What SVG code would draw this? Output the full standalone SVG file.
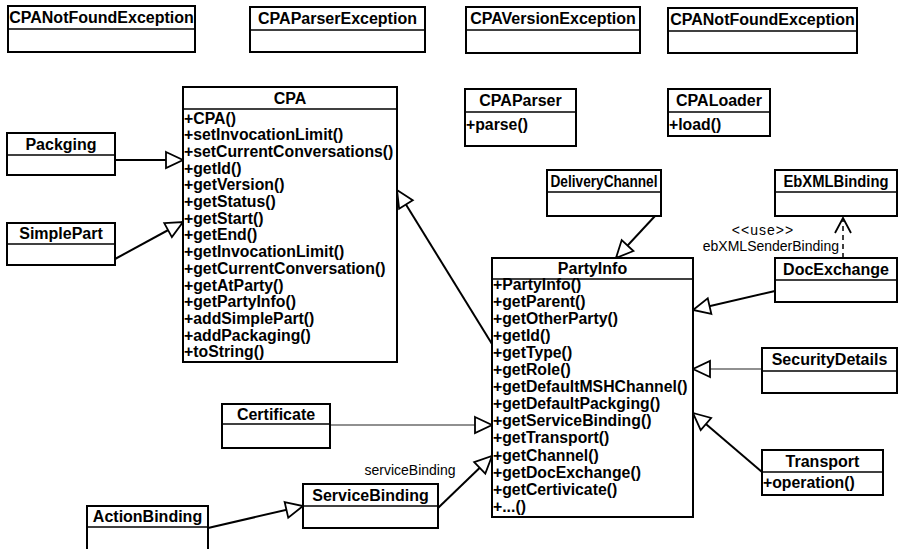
<svg xmlns="http://www.w3.org/2000/svg" width="908" height="549" viewBox="0 0 908 549">
  <defs>
    <style>
      .box { fill: #fff; stroke: #000; stroke-width: 2; }
      .sep { stroke: #000; stroke-width: 1.5; }
      .name { font-family: "Liberation Sans", Arial, sans-serif; font-weight: bold; font-size: 16px; text-anchor: middle; fill: #000; }
      .mem { font-family: "Liberation Sans", Arial, sans-serif; font-weight: bold; font-size: 15.8px; fill: #000; }
      .lbl { font-family: "Liberation Sans", Arial, sans-serif; font-size: 14px; fill: #000; }
      .gen { fill: none; stroke: #000; stroke-width: 2; marker-end: url(#tri); }
      .gen.thin { stroke-width: 1.2; stroke: #222; }
      .dep { fill: none; stroke: #000; stroke-width: 1.5; stroke-dasharray: 5 4; marker-end: url(#open); }
    </style>
    <!-- hollow generalization head -->
    <marker id="tri" markerUnits="userSpaceOnUse" viewBox="-2 -2 22 20" markerWidth="22" markerHeight="20" refX="17" refY="8" orient="auto">
      <path d="M0,0 L17,8 L0,16 Z" fill="#fff" stroke="#000" stroke-width="1.8"/>
    </marker>
    <!-- open dependency head -->
    <marker id="open" markerUnits="userSpaceOnUse" viewBox="-2 -2 20 20" markerWidth="20" markerHeight="20" refX="15" refY="8" orient="auto">
      <path d="M0,0 L15,8 L0,16" fill="none" stroke="#000" stroke-width="1.8"/>
    </marker>
  </defs>

  <rect width="908" height="549" fill="#fff"/>

  <!-- connectors -->
  <g id="connectors">
    <path class="gen" d="M115,160 L183,160"/>
    <path class="gen" d="M115,259 L183,222"/>
    <path class="gen" d="M492,344 L397,190"/>
    <path class="gen" d="M655,216 L616,258"/>
    <path class="gen" d="M775,291 L693,310"/>
    <path class="gen thin" d="M762,369 L693,369"/>
    <path class="gen" d="M762,472 L693,413"/>
    <path class="gen thin" d="M330,425 L492,425"/>
    <path class="gen" d="M438,508 L492,456"/>
    <path class="gen" d="M208,528 L303,506"/>
    <path class="dep" d="M843,258 L843,218"/>
    <text class="lbl" x="763" y="235" font-size="11.5" text-anchor="middle" letter-spacing="1">&lt;&lt;use&gt;&gt;</text>
    <text class="lbl" x="839" y="251" text-anchor="end">ebXMLSenderBinding</text>
    <text class="lbl" x="410" y="475" text-anchor="middle">serviceBinding</text>
  </g>

  <!-- exception classes -->
  <g id="CPANotFoundException1">
    <rect class="box" x="8" y="6" width="187" height="46"/>
    <line class="sep" x1="8" y1="29" x2="195" y2="29"/>
    <text class="name" x="101.5" y="23">CPANotFoundException</text>
  </g>
  <g id="CPAParserException">
    <rect class="box" x="250" y="7" width="175" height="45"/>
    <line class="sep" x1="250" y1="30" x2="425" y2="30"/>
    <text class="name" x="337.5" y="24">CPAParserException</text>
  </g>
  <g id="CPAVersionException">
    <rect class="box" x="466" y="7" width="174" height="46"/>
    <line class="sep" x1="466" y1="30" x2="640" y2="30"/>
    <text class="name" x="553" y="24">CPAVersionException</text>
  </g>
  <g id="CPANotFoundException2">
    <rect class="box" x="668" y="8" width="189" height="45"/>
    <line class="sep" x1="668" y1="31" x2="857" y2="31"/>
    <text class="name" x="762.5" y="25">CPANotFoundException</text>
  </g>

  <g id="Packging">
    <rect class="box" x="7" y="133" width="108" height="42"/>
    <line class="sep" x1="7" y1="155" x2="115" y2="155"/>
    <text class="name" x="61" y="149.5">Packging</text>
  </g>
  <g id="SimplePart">
    <rect class="box" x="7" y="223" width="108" height="42"/>
    <line class="sep" x1="7" y1="244" x2="115" y2="244"/>
    <text class="name" x="61" y="239">SimplePart</text>
  </g>

  <g id="CPA">
    <rect class="box" x="183" y="87" width="214" height="275"/>
    <line class="sep" x1="183" y1="109" x2="397" y2="109"/>
    <text class="name" x="290" y="103.5">CPA</text>
    <g class="mem">
      <text x="184" y="123.5">+CPA()</text>
      <text x="184" y="140.2">+setInvocationLimit()</text>
      <text x="184" y="156.9">+setCurrentConversations()</text>
      <text x="184" y="173.6">+getId()</text>
      <text x="184" y="190.3">+getVersion()</text>
      <text x="184" y="207">+getStatus()</text>
      <text x="184" y="223.7">+getStart()</text>
      <text x="184" y="240.4">+getEnd()</text>
      <text x="184" y="257.1">+getInvocationLimit()</text>
      <text x="184" y="273.8">+getCurrentConversation()</text>
      <text x="184" y="290.5">+getAtParty()</text>
      <text x="184" y="307.2">+getPartyInfo()</text>
      <text x="184" y="323.9">+addSimplePart()</text>
      <text x="184" y="340.6">+addPackaging()</text>
      <text x="184" y="357.3">+toString()</text>
    </g>
  </g>

  <g id="CPAParser">
    <rect class="box" x="465" y="89" width="111" height="57"/>
    <line class="sep" x1="465" y1="112" x2="576" y2="112"/>
    <text class="name" x="520.5" y="106">CPAParser</text>
    <text class="mem" x="466" y="129.5">+parse()</text>
  </g>
  <g id="CPALoader">
    <rect class="box" x="668" y="89" width="102" height="47"/>
    <line class="sep" x1="668" y1="112" x2="770" y2="112"/>
    <text class="name" x="719" y="106">CPALoader</text>
    <text class="mem" x="669" y="129.5">+load()</text>
  </g>

  <g id="DeliveryChannel">
    <rect class="box" x="547" y="170" width="114" height="46"/>
    <line class="sep" x1="547" y1="192" x2="661" y2="192"/>
    <text class="name" x="604" y="186.5" font-size="14.5" textLength="107" lengthAdjust="spacingAndGlyphs">DeliveryChannel</text>
  </g>
  <g id="EbXMLBinding">
    <rect class="box" x="775" y="170" width="122" height="46"/>
    <line class="sep" x1="775" y1="192" x2="897" y2="192"/>
    <text class="name" x="836" y="186.5" font-size="15" textLength="105" lengthAdjust="spacingAndGlyphs">EbXMLBinding</text>
  </g>

  <g id="PartyInfo">
    <rect class="box" x="492" y="258" width="201" height="259"/>
    <line class="sep" x1="492" y1="279" x2="693" y2="279"/>
    <text class="name" x="592.5" y="274">PartyInfo</text>
    <g class="mem">
      <text x="493" y="289.5">+PartyInfo()</text>
      <text x="493" y="306.6">+getParent()</text>
      <text x="493" y="323.7">+getOtherParty()</text>
      <text x="493" y="340.8">+getId()</text>
      <text x="493" y="357.9">+getType()</text>
      <text x="493" y="375">+getRole()</text>
      <text x="493" y="392.1">+getDefaultMSHChannel()</text>
      <text x="493" y="409.2">+getDefaultPackging()</text>
      <text x="493" y="426.3">+getServiceBinding()</text>
      <text x="493" y="443.4">+getTransport()</text>
      <text x="493" y="460.5">+getChannel()</text>
      <text x="493" y="477.6">+getDocExchange()</text>
      <text x="493" y="494.7">+getCertivicate()</text>
      <text x="493" y="511.8">+...()</text>
    </g>
  </g>

  <g id="DocExchange">
    <rect class="box" x="775" y="258" width="122" height="44"/>
    <line class="sep" x1="775" y1="280" x2="897" y2="280"/>
    <text class="name" x="836" y="274.5">DocExchange</text>
  </g>
  <g id="SecurityDetails">
    <rect class="box" x="762" y="348" width="135" height="45"/>
    <line class="sep" x1="762" y1="371" x2="897" y2="371"/>
    <text class="name" x="829.5" y="365">SecurityDetails</text>
  </g>
  <g id="Transport">
    <rect class="box" x="762" y="450" width="121" height="45"/>
    <line class="sep" x1="762" y1="472" x2="883" y2="472"/>
    <text class="name" x="822.5" y="466.5">Transport</text>
    <text class="mem" x="763" y="487.5">+operation()</text>
  </g>

  <g id="Certificate">
    <rect class="box" x="222" y="404" width="108" height="44"/>
    <line class="sep" x1="222" y1="424" x2="330" y2="424"/>
    <text class="name" x="276" y="419.5">Certificate</text>
  </g>
  <g id="ServiceBinding">
    <rect class="box" x="303" y="484" width="135" height="44"/>
    <line class="sep" x1="303" y1="506" x2="438" y2="506"/>
    <text class="name" x="370.5" y="500.5">ServiceBinding</text>
  </g>
  <g id="ActionBinding">
    <rect class="box" x="87" y="506" width="121" height="54"/>
    <line class="sep" x1="87" y1="527" x2="208" y2="527"/>
    <text class="name" x="147.5" y="522">ActionBinding</text>
  </g>
</svg>
